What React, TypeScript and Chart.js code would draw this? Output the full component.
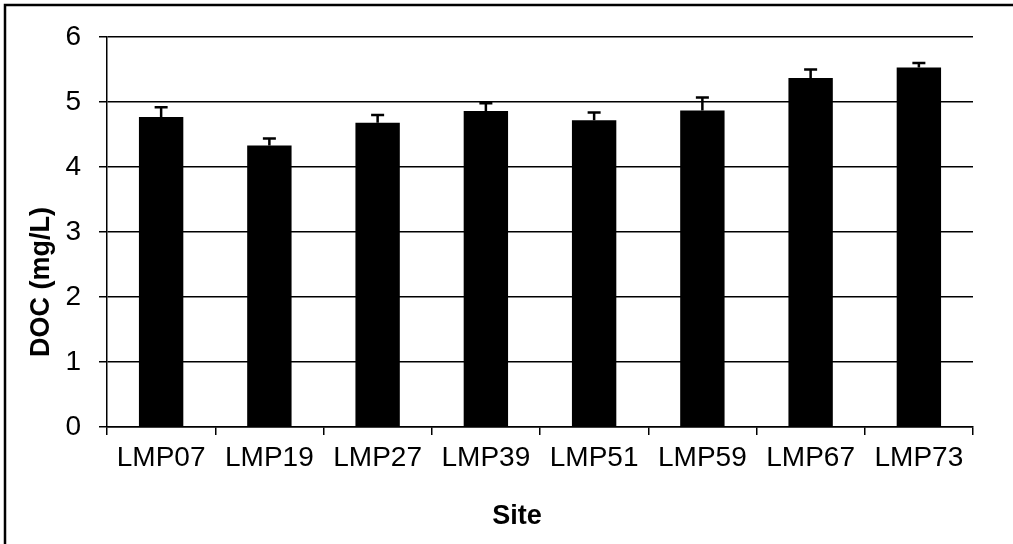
import React, { useEffect, useRef } from "react";
import { Chart, registerables } from "chart.js";

Chart.register(...registerables);

const sites = ["LMP07", "LMP19", "LMP27", "LMP39", "LMP51", "LMP59", "LMP67", "LMP73"];
const docValues = [4.77, 4.33, 4.68, 4.86, 4.72, 4.87, 5.37, 5.53];
const docErrors = [0.15, 0.11, 0.12, 0.12, 0.12, 0.2, 0.13, 0.07];
const yTicks = [0, 1, 2, 3, 4, 5, 6];
const xTitle = "Site";
const yTitle = "DOC (mg/L)";

const FONT = "'Liberation Sans', Arial, sans-serif";

const errorBarPlugin = {
  id: "errorBars",
  afterDatasetsDraw(chart: any) {
    const { ctx } = chart;
    const meta = chart.getDatasetMeta(0);
    const yScale = chart.scales.y;
    ctx.save();
    ctx.strokeStyle = "#000";
    ctx.lineWidth = 2.5;
    meta.data.forEach((bar: any, i: number) => {
      const x = bar.x;
      const yTop = yScale.getPixelForValue(docValues[i] + docErrors[i]);
      const yBase = yScale.getPixelForValue(docValues[i]);
      ctx.beginPath();
      ctx.moveTo(x, yBase);
      ctx.lineTo(x, yTop);
      ctx.moveTo(x - 6.5, yTop);
      ctx.lineTo(x + 6.5, yTop);
      ctx.stroke();
    });
    ctx.restore();
  },
};

const framePlugin = {
  id: "frame",
  beforeDraw(chart: any) {
    const { ctx, width, height } = chart;
    ctx.save();
    ctx.fillStyle = "#fff";
    ctx.fillRect(0, 0, width, height);
    ctx.strokeStyle = "#000";
    ctx.lineWidth = 2.5;
    ctx.beginPath();
    ctx.moveTo(5, height);
    ctx.lineTo(5, 5);
    ctx.lineTo(width, 5);
    ctx.stroke();
    ctx.restore();
  },
  afterDraw(chart: any) {
    const { ctx } = chart;
    ctx.save();
    ctx.fillStyle = "#000";
    ctx.font = `bold 27px ${FONT}`;
    ctx.textAlign = "center";
    ctx.textBaseline = "middle";
    ctx.fillText(xTitle, 517, 517);
    ctx.translate(42, 282);
    ctx.rotate(-Math.PI / 2);
    ctx.fillText(yTitle, 0, 0);
    ctx.restore();
  },
};

export default function App() {
  const canvasRef = useRef<HTMLCanvasElement | null>(null);

  useEffect(() => {
    if (!canvasRef.current) return;
    const chart = new Chart(canvasRef.current, {
      type: "bar",
      data: {
        labels: sites,
        datasets: [
          {
            data: docValues,
            backgroundColor: "#000",
            borderWidth: 0,
            categoryPercentage: 1,
            barPercentage: 0.41,
          },
        ],
      },
      options: {
        animation: false,
        responsive: false,
        maintainAspectRatio: false,
        layout: { padding: { top: 37, right: 40, bottom: 0, left: 0 } },
        plugins: { legend: { display: false }, tooltip: { enabled: false } },
        scales: {
          x: {
            afterFit: (s: any) => {
              s.height = 117;
            },
            grid: {
              drawOnChartArea: false,
              drawTicks: true,
              offset: true,
              tickLength: 8,
              color: "#000",
              lineWidth: 1.5,
            },
            border: { display: true, color: "#000", width: 1.5 },
            ticks: {
              color: "#000",
              padding: 6,
              font: { family: FONT, size: 28 },
              maxRotation: 0,
              autoSkip: false,
            },
          },
          y: {
            min: 0,
            max: 6,
            afterFit: (s: any) => {
              s.width = 107;
            },
            afterBuildTicks: (s: any) => {
              s.ticks = yTicks.map((v) => ({ value: v }));
            },
            grid: {
              color: "#000",
              lineWidth: 1.5,
              drawTicks: true,
              tickLength: 8,
            },
            border: { display: true, color: "#000", width: 1.5 },
            ticks: {
              color: "#000",
              padding: 18,
              font: { family: FONT, size: 28 },
            },
          },
        },
      },
      plugins: [framePlugin, errorBarPlugin],
    });
    return () => chart.destroy();
  }, []);

  return (
    <div style={{ position: "fixed", left: 0, top: 0, width: 1013, height: 544, background: "#fff" }}>
      <canvas ref={canvasRef} width={1013} height={544} style={{ display: "block", width: 1013, height: 544 }} />
    </div>
  );
}
